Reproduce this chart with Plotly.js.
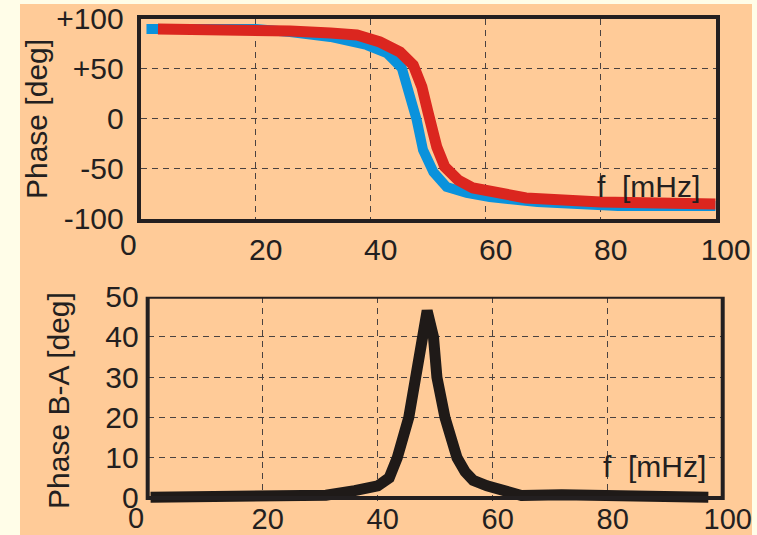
<!DOCTYPE html>
<html>
<head>
<meta charset="utf-8">
<script src="https://cdn.plot.ly/plotly-3.0.1.min.js"></script>
<style>html,body{margin:0;padding:0;background:#FFFDE8;}#chart{width:757px;height:535px;}</style>
</head>
<body>
<div id="chart"></div>
<script>
// Top panel: phase of A (blue) and B (red) vs frequency
const freqA = [1, 10, 20, 26, 33, 39.3, 42.8, 45.4, 46.8, 48, 49.1, 50.9, 53.2, 56.7, 60.7, 69, 83, 100];
const phaseA = [90, 90, 90, 87, 82, 74, 66, 51, 26, -1, -31, -53, -68, -74, -78, -83, -87, -87];
const freqB = [3, 10, 20, 26, 33, 37.6, 41.6, 45.1, 47.4, 48.9, 50, 51.5, 52.9, 55.2, 57.8, 60.7, 67, 80, 90, 100];
const phaseB = [90, 90, 90, 88, 86, 84, 77, 67, 54, 32, 6, -28, -48, -61, -69, -73, -79, -83, -84, -85];

// Bottom panel: phase difference B-A
const freqD = [0.5, 7, 15, 23, 31, 36, 40, 42, 43.4, 45.4, 46.6, 47.5, 48.6, 49.7, 50.3, 51.7, 53.8, 55.2, 56.6, 59, 62, 65, 72, 77.5, 83, 88.5, 93.7, 97.5];
const phaseD = [0.2, 0.3, 0.4, 0, 0.7, 1.8, 3, 5, 10, 20, 30, 40, 46.5, 40, 30, 20, 10, 6.5, 4.4, 3, 2, 0.6, 0.8, 0.7, 0.9, 0.3, 0.7, 0.2];

const xTickVals = [0, 20, 40, 60, 80, 100];
const xTickText = ['', '20', '40', '60', '80', '100'];
const topYTickVals = [-100, -50, 0, 50, 100];
const topYTickText = ['-100', '-50', '0', '+50', '+100'];
const botYTickVals = [0, 10, 20, 30, 40, 50];
const botYTickText = ['0', '10', '20', '30', '40', '50'];

const FONT = 'Liberation Sans, Arial, sans-serif';
const INK = '#231F20';
const GRID = '#4a4240';
const TICKSIZE = 30;

const traces = [
  {x: freqA, y: phaseA, xaxis: 'x', yaxis: 'y', mode: 'lines', line: {color: '#0A92DC', width: 10}, hoverinfo: 'skip'},
  {x: freqB, y: phaseB, xaxis: 'x', yaxis: 'y', mode: 'lines', line: {color: '#DB261F', width: 11}, hoverinfo: 'skip'},
  {x: freqD, y: phaseD, xaxis: 'x2', yaxis: 'y2', mode: 'lines', line: {color: '#1F1A18', width: 11}, hoverinfo: 'skip'}
];

const commonX = {
  range: [0, 100], tickvals: xTickVals, ticktext: xTickText, ticks: '',
  showgrid: true, gridcolor: GRID, gridwidth: 1, griddash: '6px,5px', zeroline: false,
  tickfont: {family: FONT, size: TICKSIZE, color: INK}, ticklabelshift: 10, fixedrange: true
};

const layout = {
  width: 757, height: 535,
  margin: {l: 0, r: 0, t: 0, b: 0},
  paper_bgcolor: '#FFFDE8',
  plot_bgcolor: 'rgba(0,0,0,0)',
  showlegend: false,
  xaxis: Object.assign({}, commonX, {
    domain: [0.1859, 0.9454], anchor: 'y',
    showline: true, mirror: true, linecolor: INK, linewidth: 4, ticklabelstandoff: 1
  }),
  yaxis: {
    domain: [0.5907, 0.9645], anchor: 'x', range: [-100, 100],
    tickvals: topYTickVals, ticktext: topYTickText, ticks: '',
    showgrid: true, gridcolor: GRID, gridwidth: 1, griddash: '6px,5px', zeroline: false,
    showline: true, mirror: true, linecolor: INK, linewidth: 4,
    tickfont: {family: FONT, size: TICKSIZE, color: INK}, ticklabelstandoff: 7,
    title: {text: 'Phase [deg]', font: {family: FONT, size: 30, color: INK}, standoff: 1},
    fixedrange: true
  },
  xaxis2: Object.assign({}, commonX, {
    domain: [0.1951, 0.9547], anchor: 'y2', showline: false, ticklabelstandoff: -5,
    ticklabelshift: 5, tickfont: {family: FONT, size: 29, color: INK}
  }),
  yaxis2: {
    domain: [0.0572, 0.4454], anchor: 'x2', range: [-1.6, 50],
    tickvals: botYTickVals, ticktext: botYTickText, ticks: '',
    showgrid: true, gridcolor: GRID, gridwidth: 1, griddash: '6px,5px', zeroline: false,
    showline: false,
    tickfont: {family: FONT, size: TICKSIZE, color: INK}, ticklabelstandoff: 8,
    title: {text: 'Phase B-A [deg]', font: {family: FONT, size: 30, color: INK}, standoff: 26},
    fixedrange: true
  },
  shapes: [
    {type: 'rect', xref: 'paper', yref: 'paper', x0: 20/757, x1: 752/757, y0: 0, y1: 1 - 4/535,
     fillcolor: '#FFCB98', line: {width: 0}, layer: 'below'},
    {type: 'rect', xref: 'paper', yref: 'y2', x0: 0.1951, x1: 0.9547, y0: 0, y1: 50,
     line: {color: INK, width: 4}, fillcolor: 'rgba(0,0,0,0)', layer: 'above'}
  ],
  annotations: [
    {xref: 'x', yref: 'y', x: 97.6, y: -68, xanchor: 'right', yanchor: 'middle', showarrow: false,
     text: 'f\u00a0\u00a0[mHz]', font: {family: FONT, size: 30, color: INK}},
    {xref: 'x2', yref: 'y2', x: 97.5, y: 7.7, xanchor: 'right', yanchor: 'middle', showarrow: false,
     text: 'f\u00a0\u00a0[mHz]', font: {family: FONT, size: 30, color: INK}},
    {xref: 'x', yref: 'paper', x: 0, y: 1 - 245/535, xshift: -12, yanchor: 'middle', showarrow: false,
     text: '0', font: {family: FONT, size: TICKSIZE, color: INK}},
    {xref: 'x2', yref: 'paper', x: 0, y: 1 - 518/535, xshift: -12, yanchor: 'middle', showarrow: false,
     text: '0', font: {family: FONT, size: 29, color: INK}}
  ]
};

Plotly.newPlot('chart', traces, layout, {staticPlot: true, displayModeBar: false});
</script>
</body>
</html>
